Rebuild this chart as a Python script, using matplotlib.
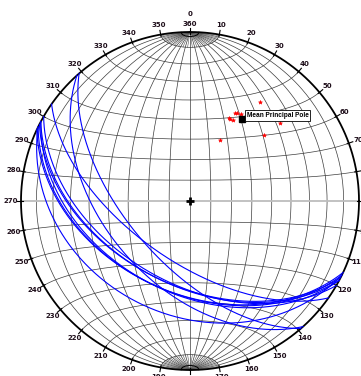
import numpy as np
import matplotlib
matplotlib.use("Agg")
import matplotlib.pyplot as plt

# ---- data ----
# poles to planes (trend, plunge) in degrees
pole_trends = [35, 27, 28, 30, 25, 26, 28, 49, 48, 26]
pole_plunges = [29, 41, 41, 40, 45, 45, 45, 30, 41, 57]
mean_trend = 32
mean_plunge = 42
mean_label = "Mean Principal Pole"
azimuth_labels = list(range(10, 360, 10))

# ---- helpers ----
def project(trend, plunge):
    t = np.radians(trend)
    p = np.radians(plunge)
    r = np.sqrt(2) * np.sin((np.pi / 2 - p) / 2)
    return r * np.sin(t), r * np.cos(t)

def vec_to_tp(e, n, z):
    z = np.clip(z, -1, 1)
    plunge = np.degrees(np.arcsin(-z))
    trend = np.degrees(np.arctan2(e, n))
    return trend, plunge

def great_circle(dipdir, dip, amin=0, amax=180, n=200):
    strike = np.radians(dipdir - 90)
    dd = np.radians(dipdir)
    d = np.radians(dip)
    s = np.array([np.sin(strike), np.cos(strike), 0.0])
    dv = np.array([np.sin(dd) * np.cos(d), np.cos(dd) * np.cos(d), -np.sin(d)])
    a = np.radians(np.linspace(amin, amax, n))
    v = np.outer(np.cos(a), s) + np.outer(np.sin(a), dv)
    t, p = vec_to_tp(v[:, 0], v[:, 1], v[:, 2])
    return project(t, p)

def small_circle_ns(alpha, n=200):
    al = np.radians(alpha)
    phi = np.linspace(np.pi, 2 * np.pi, n)
    e = np.sin(al) * np.cos(phi)
    nn = np.full_like(phi, np.cos(al))
    z = np.sin(al) * np.sin(phi)
    t, p = vec_to_tp(e, nn, z)
    return project(t, p)

# ---- figure ----
W, H = 361, 376
cx, cy, R = 190, 201, 169
fig = plt.figure(figsize=(W / 100, H / 100), dpi=100)
ax = fig.add_axes([0, 0, 1, 1])
ax.set_xlim(-cx / R, (W - cx) / R)
ax.set_ylim(-(H - cy) / R, cy / R)
ax.axis("off")

gcol = "#3c3c3c"
glw = 0.5

# meridians (great circles striking N-S), 10 deg
for dip in range(10, 90, 10):
    for ddir in (90, 270):
        x, y = great_circle(ddir, dip)
        ax.plot(x, y, color=gcol, lw=glw, zorder=1)
ax.plot([0, 0], [-1, 1], color=gcol, lw=glw, zorder=1)

# extra meridians near the poles, inside 10 deg cap
for dip in range(5, 90, 10):
    for ddir in (90, 270):
        for a0, a1 in ((3, 10), (170, 177)):
            x, y = great_circle(ddir, dip, a0, a1, n=20)
            ax.plot(x, y, color=gcol, lw=0.35, zorder=1)

# small circles around N-S axis
for alpha in list(range(10, 90, 10)) + list(range(100, 180, 10)):
    x, y = small_circle_ns(alpha)
    ax.plot(x, y, color=gcol, lw=glw, zorder=1)
for alpha in (3, 177):
    x, y = small_circle_ns(alpha)
    ax.plot(x, y, color="black", lw=0.7, zorder=1)

# equator (E-W line) in light grey
ax.plot([-1, 1], [0, 0], color="#bdbdbd", lw=1.3, zorder=1.5)

# primitive circle
th = np.linspace(0, 2 * np.pi, 400)
ax.plot(np.cos(th), np.sin(th), color="black", lw=1.3, zorder=3)

# ticks and azimuth labels
lab_col = "#1e0e1a"
for az in range(0, 360, 10):
    a = np.radians(az)
    ax.plot([0.99 * np.sin(a), 1.025 * np.sin(a)], [0.99 * np.cos(a), 1.025 * np.cos(a)],
            color="black", lw=0.8, zorder=3)
for az in azimuth_labels:
    a = np.radians(az)
    rr = 1.058
    ax.text(rr * np.sin(a), rr * np.cos(a), str(az), fontsize=5, color=lab_col,
            ha="center", va="center", zorder=4, fontweight="semibold")
ax.text(0, (cy - 24) / R, "360", fontsize=5, color=lab_col, ha="center", va="center",
        fontweight="semibold")
ax.text(0, (cy - 14) / R, "0", fontsize=5, color=lab_col, ha="center", va="center",
        fontweight="semibold")

# great circles of planes
for t, p in zip(pole_trends, pole_plunges):
    ddir = (t + 180) % 360
    dip = 90 - p
    x, y = great_circle(ddir, dip, n=300)
    ax.plot(x, y, color="#0000ff", lw=0.8, zorder=5)

# poles
px, py = project(np.array(pole_trends), np.array(pole_plunges))
ax.plot(px, py, ls="none", marker="*", ms=3, color="red", mec="red", mew=0.4, zorder=6)

# mean principal pole
mx, my = project(mean_trend, mean_plunge)
ax.plot(mx, my, marker="s", ms=4.5, color="black", ls="none", zorder=7)
ax.text(mx + 5 / R, my + 3 / R, mean_label, fontsize=4.7, fontweight="bold",
        family=["Liberation Sans", "DejaVu Sans"],
        ha="left", va="center", color="black", zorder=8,
        bbox=dict(boxstyle="square,pad=0.3", fc="white", ec="black", lw=0.6))

# centre cross
ax.plot(0, 0, marker="+", ms=6, mew=2, color="black", zorder=7)

fig.savefig("out.png", dpi=100)
